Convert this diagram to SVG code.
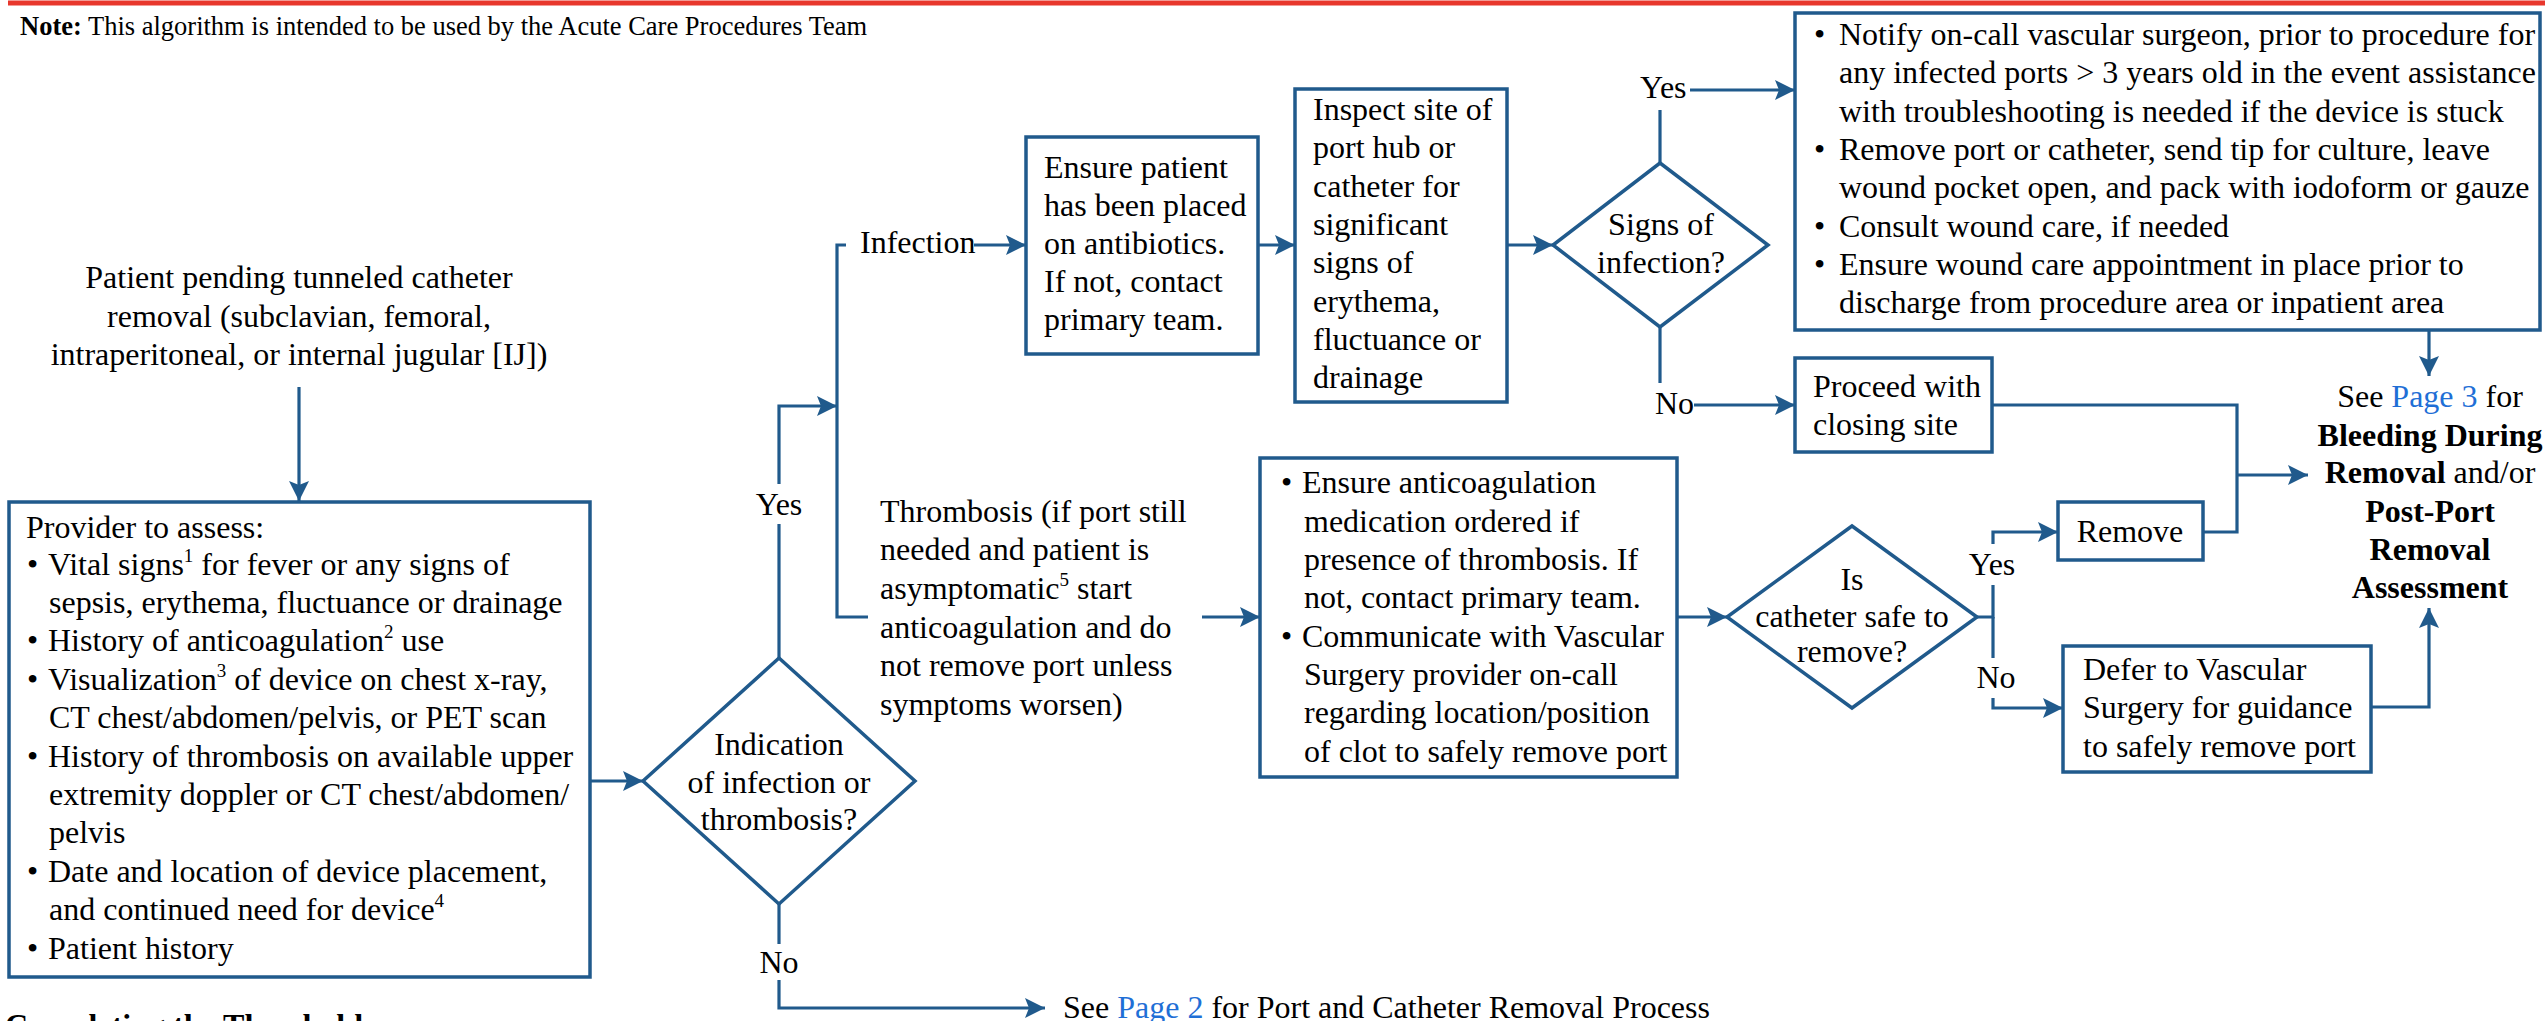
<svg xmlns="http://www.w3.org/2000/svg" width="2545" height="1021" viewBox="0 0 2545 1021">
<style>
text{font-family:"Liberation Serif","Times New Roman",serif;font-size:32px;fill:#000}
.b{font-weight:bold}
.m{text-anchor:middle}
.lk{fill:#1f6fd6}
.bx{fill:#fff;stroke:#205a8c;stroke-width:3.5}
.ln{fill:none;stroke:#205a8c;stroke-width:3.2}
.ar{marker-end:url(#ah)}
.sp{font-size:19px}
</style>
<defs>
<marker id="ah" viewBox="0 0 20 20" refX="20" refY="10" markerWidth="20" markerHeight="20" markerUnits="userSpaceOnUse" orient="auto">
<path d="M0,0 L20,10 L0,20 L4,10 Z" fill="#205a8c"/>
</marker>
</defs>
<rect width="2545" height="1021" fill="#fff"/>
<line x1="8" y1="3" x2="2545" y2="3" stroke="#e8372c" stroke-width="5"/>
<text x="20" y="35" style="font-size:26.5px"><tspan class="b">Note:</tspan> This algorithm is intended to be used by the Acute Care Procedures Team</text>

<g id="connectors">
<path class="ln ar" d="M299,387 V501"/>
<path class="ln ar" d="M590,781 H643"/>
<path class="ln" d="M779,658 V524"/>
<path class="ln ar" d="M779,484 V406 H837"/>
<path class="ln" d="M846,245 H837 V617 H868"/>
<path class="ln ar" d="M974,245 H1026"/>
<path class="ln ar" d="M1258,245 H1295"/>
<path class="ln ar" d="M1507,245 H1553"/>
<path class="ln" d="M1660,163 V110"/>
<path class="ln ar" d="M1690,90 H1795"/>
<path class="ln" d="M1660,327 V383"/>
<path class="ln ar" d="M1694,405 H1795"/>
<path class="ln ar" d="M2429,330 V376"/>
<path class="ln" d="M1992,405 H2237 V532 H2203"/>
<path class="ln ar" d="M2237,475 H2308"/>
<path class="ln ar" d="M1202,617 H1260"/>
<path class="ln ar" d="M1677,617 H1727"/>
<path class="ln" d="M1977,617 H1993 V585"/>
<path class="ln ar" d="M1993,544 V532 H2058"/>
<path class="ln" d="M1993,617 V658"/>
<path class="ln ar" d="M1993,698 V708 H2063"/>
<path class="ln ar" d="M2371,707 H2429 V608"/>
<path class="ln" d="M779,904 V944"/>
<path class="ln ar" d="M779,980 V1008 H1045"/>
</g>

<g id="labels">
<text x="779" y="515" class="m">Yes</text>
<text x="779" y="973" class="m">No</text>
<text x="860" y="253">Infection</text>
<text x="1640" y="98">Yes</text>
<text x="1655" y="414">No</text>
<text x="1992" y="575" class="m">Yes</text>
<text x="1996" y="688" class="m">No</text>
</g>

<g id="start">
<text x="299" y="288" class="m">Patient pending tunneled catheter</text>
<text x="299" y="327" class="m">removal (subclavian, femoral,</text>
<text x="299" y="365" class="m">intraperitoneal, or internal jugular [IJ])</text>
</g>

<g id="provider">
<rect class="bx" x="9" y="502" width="581" height="475"/>
<text x="26" y="538">Provider to assess:</text>
<text x="27" y="575">•</text>
<text x="48" y="575">Vital signs<tspan class="sp" dy="-13">1</tspan><tspan dy="13"> for fever or any signs of</tspan></text>
<text x="49" y="613">sepsis, erythema, fluctuance or drainage</text>
<text x="27" y="651">•</text>
<text x="48" y="651">History of anticoagulation<tspan class="sp" dy="-13">2</tspan><tspan dy="13"> use</tspan></text>
<text x="27" y="690">•</text>
<text x="48" y="690">Visualization<tspan class="sp" dy="-13">3</tspan><tspan dy="13"> of device on chest x-ray,</tspan></text>
<text x="49" y="728">CT chest/abdomen/pelvis, or PET scan</text>
<text x="27" y="767">•</text>
<text x="48" y="767">History of thrombosis on available upper</text>
<text x="49" y="805">extremity doppler or CT chest/abdomen/</text>
<text x="49" y="843">pelvis</text>
<text x="27" y="882">•</text>
<text x="48" y="882">Date and location of device placement,</text>
<text x="49" y="920">and continued need for device<tspan class="sp" dy="-13">4</tspan></text>
<text x="27" y="959">•</text>
<text x="48" y="959">Patient history</text>
</g>

<g id="indication">
<polygon class="bx" points="779,658 915,781 779,904 643,781"/>
<text x="779" y="755" class="m">Indication</text>
<text x="779" y="793" class="m">of infection or</text>
<text x="779" y="830" class="m">thrombosis?</text>
</g>

<g id="antibiotics">
<rect class="bx" x="1026" y="137" width="232" height="217"/>
<text x="1044" y="178">Ensure patient</text>
<text x="1044" y="216">has been placed</text>
<text x="1044" y="254">on antibiotics.</text>
<text x="1044" y="292">If not, contact</text>
<text x="1044" y="330">primary team.</text>
</g>

<g id="inspect">
<rect class="bx" x="1295" y="89" width="212" height="313"/>
<text x="1313" y="120">Inspect site of</text>
<text x="1313" y="158">port hub or</text>
<text x="1313" y="197">catheter for</text>
<text x="1313" y="235">significant</text>
<text x="1313" y="273">signs of</text>
<text x="1313" y="312">erythema,</text>
<text x="1313" y="350">fluctuance or</text>
<text x="1313" y="388">drainage</text>
</g>

<g id="signs">
<polygon class="bx" points="1660,163 1768,245 1660,327 1553,245"/>
<text x="1661" y="235" class="m">Signs of</text>
<text x="1661" y="273" class="m">infection?</text>
</g>

<g id="remove-infected">
<rect class="bx" x="1795" y="13" width="745" height="317"/>
<text x="1814" y="45">•</text>
<text x="1839" y="45">Notify on-call vascular surgeon, prior to procedure for</text>
<text x="1839" y="83">any infected ports &gt; 3 years old in the event assistance</text>
<text x="1839" y="122">with troubleshooting is needed if the device is stuck</text>
<text x="1814" y="160">•</text>
<text x="1839" y="160">Remove port or catheter, send tip for culture, leave</text>
<text x="1839" y="198">wound pocket open, and pack with iodoform or gauze</text>
<text x="1814" y="237">•</text>
<text x="1839" y="237">Consult wound care, if needed</text>
<text x="1814" y="275">•</text>
<text x="1839" y="275">Ensure wound care appointment in place prior to</text>
<text x="1839" y="313">discharge from procedure area or inpatient area</text>
</g>

<g id="proceed">
<rect class="bx" x="1795" y="358" width="197" height="94"/>
<text x="1813" y="397">Proceed with</text>
<text x="1813" y="435">closing site</text>
</g>

<g id="page3">
<text x="2430" y="407" class="m">See <tspan class="lk">Page 3</tspan> for</text>
<text x="2430" y="446" class="m b">Bleeding During</text>
<text x="2430" y="483" class="m"><tspan class="b">Removal</tspan> and/or</text>
<text x="2430" y="522" class="m b">Post-Port</text>
<text x="2430" y="560" class="m b">Removal</text>
<text x="2430" y="598" class="m b">Assessment</text>
</g>

<g id="thrombosis">
<text x="880" y="522">Thrombosis (if port still</text>
<text x="880" y="560">needed and patient is</text>
<text x="880" y="599">asymptomatic<tspan class="sp" dy="-13">5</tspan><tspan dy="13"> start</tspan></text>
<text x="880" y="638">anticoagulation and do</text>
<text x="880" y="676">not remove port unless</text>
<text x="880" y="715">symptoms worsen)</text>
</g>

<g id="anticoag">
<rect class="bx" x="1260" y="458" width="417" height="319"/>
<text x="1281" y="493">•</text>
<text x="1302" y="493">Ensure anticoagulation</text>
<text x="1304" y="532">medication ordered if</text>
<text x="1304" y="570">presence of thrombosis. If</text>
<text x="1304" y="608">not, contact primary team.</text>
<text x="1281" y="647">•</text>
<text x="1302" y="647">Communicate with Vascular</text>
<text x="1304" y="685">Surgery provider on-call</text>
<text x="1304" y="723">regarding location/position</text>
<text x="1304" y="762">of clot to safely remove port</text>
</g>

<g id="safe">
<polygon class="bx" points="1852,526 1977,617 1852,708 1727,617"/>
<text x="1852" y="590" class="m">Is</text>
<text x="1852" y="627" class="m">catheter safe to</text>
<text x="1852" y="662" class="m">remove?</text>
</g>

<g id="remove">
<rect class="bx" x="2058" y="502" width="145" height="58"/>
<text x="2130" y="542" class="m">Remove</text>
</g>

<g id="defer">
<rect class="bx" x="2063" y="646" width="308" height="126"/>
<text x="2083" y="680">Defer to Vascular</text>
<text x="2083" y="718">Surgery for guidance</text>
<text x="2083" y="757">to safely remove port</text>
</g>

<g id="page2">
<text x="1063" y="1018">See <tspan class="lk">Page 2</tspan> for Port and Catheter Removal Process</text>
</g>

<text x="5" y="1036" class="b">Completing the Threshold</text>
</svg>
